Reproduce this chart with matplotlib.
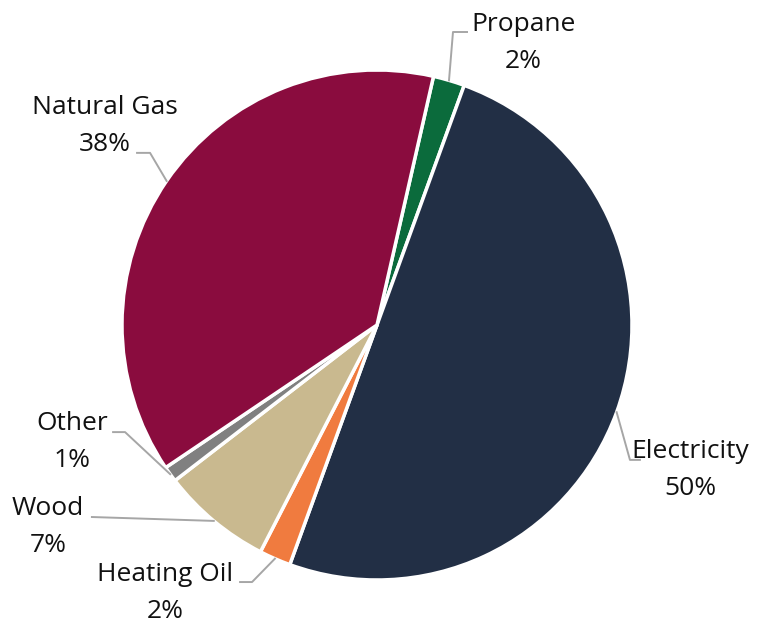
import numpy as np
import matplotlib.pyplot as plt

plt.rcParams['font.family'] = ['Open Sans', 'DejaVu Sans']

# data, clockwise from the top
fuels = ['Propane', 'Electricity', 'Heating Oil', 'Wood', 'Other', 'Natural Gas']
shares = [2, 50, 2, 7, 1, 38]

colors = ['#0b6b3c', '#222f45', '#f07b3f', '#c9b98f', '#808080', '#8a0c3e']

# label layout: text centre, leader elbow, leader end (data units, radius = 1)
text_xy = [(0.573, 1.106), (1.227, -0.569), (-0.831, -1.051),
           (-1.290, -0.792), (-1.196, -0.459), (-1.067, 0.780)]
elbow_xy = [(0.298, 1.149), (0.992, -0.529), (-0.490, -1.008),
            (-1.118, -0.753), (-0.988, -0.420), (-0.890, 0.675)]
end_xy = [(0.353, 1.149), (1.031, -0.529), (-0.537, -1.008),
          (-1.118, -0.753), (-1.035, -0.420), (-0.941, 0.675)]

W, H = 765, 623
cx, cy, r = 377, 325, 255

fig = plt.figure(figsize=(W / 100, H / 100), dpi=100)
ax = fig.add_axes([0, 0, 1, 1])

wedges, _ = ax.pie(shares, colors=colors, startangle=77.2, counterclock=False,
                   radius=1, center=(0, 0), frame=True,
                   wedgeprops=dict(edgecolor='white', linewidth=2.5))
ax.set_xlim(-cx / r, (W - cx) / r)
ax.set_ylim((cy - H) / r, cy / r)
ax.set_aspect('equal')
ax.axis('off')

for w, name, val, txy, exy, nxy in zip(wedges, fuels, shares, text_xy, elbow_xy, end_xy):
    mid = np.deg2rad((w.theta1 + w.theta2) / 2)
    ax_, ay_ = np.cos(mid), np.sin(mid)
    ax.plot([ax_, exy[0], nxy[0]], [ay_, exy[1], nxy[1]], color='#a6a6a6', lw=1.4,
            zorder=1)
    ax.text(txy[0], txy[1], '{}\n{}%'.format(name, val), ha='center', va='center',
            fontsize=19, color='#111111', linespacing=1.6)

fig.savefig('out.png', dpi=100)
